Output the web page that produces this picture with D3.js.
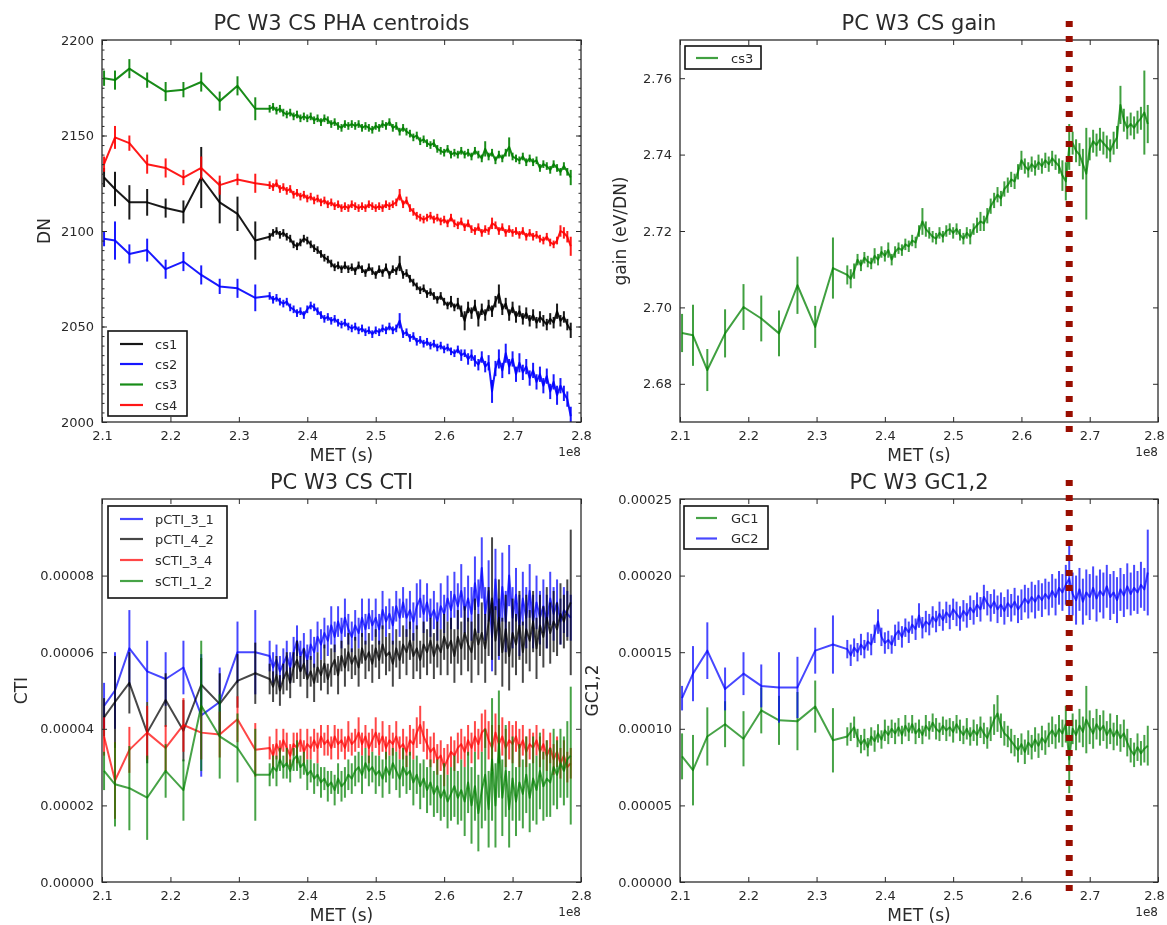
<!DOCTYPE html>
<html><head><meta charset="utf-8">
<script src="https://cdn.jsdelivr.net/npm/d3@7"></script>
<style>
body{margin:0;background:#fff}
svg{display:block}
text{font-family:"DejaVu Sans",sans-serif}
</style>
</head><body>
<svg id="fig" width="1167" height="925"></svg>
<script>
// ---------- DATA ----------
const metSec = [
 2.103e8,2.119e8,2.140e8,2.166e8,2.193e8,2.219e8,2.245e8,2.272e8,2.298e8,2.324e8,
 2.345e8,2.350e8,2.355e8,2.360e8,2.365e8,2.370e8,2.375e8,2.380e8,2.385e8,2.390e8,
 2.395e8,2.400e8,2.405e8,2.410e8,2.415e8,2.420e8,2.425e8,2.430e8,2.435e8,2.440e8,
 2.445e8,2.450e8,2.455e8,2.460e8,2.465e8,2.470e8,2.475e8,2.480e8,2.485e8,2.490e8,
 2.495e8,2.500e8,2.505e8,2.510e8,2.515e8,2.520e8,2.525e8,2.530e8,2.535e8,2.540e8,
 2.545e8,2.550e8,2.555e8,2.560e8,2.565e8,2.570e8,2.575e8,2.580e8,2.585e8,2.590e8,
 2.595e8,2.600e8,2.605e8,2.610e8,2.615e8,2.620e8,2.625e8,2.630e8,2.635e8,2.640e8,
 2.645e8,2.650e8,2.655e8,2.660e8,2.665e8,2.670e8,2.675e8,2.680e8,2.685e8,2.690e8,
 2.695e8,2.700e8,2.705e8,2.710e8,2.715e8,2.720e8,2.725e8,2.730e8,2.735e8,2.740e8,
 2.745e8,2.750e8,2.755e8,2.760e8,2.765e8,2.770e8,2.775e8,2.780e8,2.785e8];

const xTicks = [2.1e8,2.2e8,2.3e8,2.4e8,2.5e8,2.6e8,2.7e8,2.8e8];
const refLineMET = 2.67e8;

// PHA centroids (DN)
const cs1 = [2128,2122,2115,2115,2112,2110,2128,2115,2109,2095,
 2097,2099,2100,2098,2099,2097,2096,2093,2092,2094,
 2096,2095,2093,2091,2090,2088,2086,2085,2083,2081,
 2082,2080,2082,2080,2081,2079,2082,2080,2078,2081,
 2079,2077,2080,2078,2081,2077,2080,2079,2083,2077,
 2078,2075,2073,2071,2069,2070,2067,2068,2066,2064,
 2066,2063,2061,2063,2060,2062,2058,2053,2060,2057,
 2061,2054,2059,2056,2061,2058,2063,2067,2059,2062,
 2056,2060,2055,2058,2054,2057,2053,2056,2052,2055,
 2053,2051,2054,2052,2058,2053,2055,2051,2048];
const cs1Err = [5,9,9,7,5,6,16,11,9,10,
 2,2,2,2,2,2,2,2,2,2, 2,2,2,2,2,2,2,2,2,2, 2,2,2,2,2,2,2,2,2,2,
 2,2,2,2,2,2,2,2,4,2, 2,2,2,2,2,2,2,2,2,2, 2,2,2,3,2,3,3,5,3,3,
 3,4,3,3,3,3,3,5,3,3, 3,3,3,3,3,3,3,3,3,3, 3,3,3,3,4,3,3,3,4];
const cs2 = [2096,2095,2088,2090,2080,2084,2077,2071,2070,2065,
 2066,2064,2065,2063,2062,2063,2060,2059,2057,2058,
 2056,2059,2061,2060,2058,2056,2054,2055,2053,2054,
 2052,2051,2052,2050,2049,2050,2048,2049,2047,2048,
 2046,2048,2047,2049,2048,2050,2048,2049,2053,2046,
 2047,2044,2045,2042,2043,2041,2042,2040,2041,2039,
 2040,2038,2039,2037,2036,2038,2035,2036,2033,2035,
 2032,2030,2034,2029,2031,2016,2028,2033,2027,2036,
 2029,2033,2025,2031,2026,2029,2023,2027,2021,2025,
 2019,2024,2016,2021,2014,2019,2015,2012,2003];
const cs2Err = [4,10,5,6,5,5,5,4,5,7,
 2,2,2,2,2,2,2,2,2,2, 2,2,2,2,2,2,2,2,2,2, 2,2,2,2,2,2,2,2,2,2,
 2,2,2,2,2,2,2,2,4,2, 2,2,2,2,2,2,2,2,2,2, 2,2,2,2,2,2,3,2,3,3,
 3,3,3,3,4,6,4,5,4,5, 4,4,4,5,4,4,4,4,4,4, 4,4,4,4,5,4,4,4,5];
const cs3 = [2180,2179,2185,2179,2173,2174,2178,2168,2176,2164,
 2164,2165,2163,2164,2162,2161,2162,2160,2161,2159,
 2160,2159,2160,2158,2159,2157,2159,2158,2156,2157,
 2155,2154,2156,2155,2156,2155,2156,2154,2155,2154,
 2153,2155,2154,2156,2155,2157,2154,2155,2152,2154,
 2152,2151,2149,2150,2147,2148,2146,2145,2146,2143,
 2142,2141,2143,2140,2141,2140,2142,2140,2141,2139,
 2142,2140,2138,2143,2139,2141,2137,2140,2138,2141,
 2144,2139,2138,2137,2139,2136,2138,2136,2137,2133,
 2135,2134,2132,2135,2133,2131,2134,2131,2128];
const cs3Err = [4,5,5,4,5,4,5,5,5,6,
 2,2,2,2,2,2,2,2,2,2, 2,2,2,2,2,2,2,2,2,2, 2,2,2,2,2,2,2,2,2,2,
 2,2,2,2,2,2,2,2,2,2, 2,2,2,2,2,2,2,2,2,2, 2,2,2,2,2,2,2,2,2,2,
 2,2,2,4,2,2,2,2,2,2, 5,2,2,2,2,2,2,2,2,2, 2,2,2,2,2,2,2,2,4];
const cs4 = [2135,2149,2146,2135,2133,2128,2133,2124,2127,2125,
 2124,2123,2125,2122,2123,2121,2122,2119,2120,2118,
 2119,2117,2118,2116,2117,2115,2116,2114,2115,2113,
 2114,2112,2113,2112,2114,2113,2112,2113,2112,2114,
 2113,2112,2113,2112,2114,2113,2114,2115,2119,2114,
 2116,2112,2110,2108,2107,2106,2107,2108,2106,2107,
 2105,2106,2104,2107,2104,2103,2105,2102,2104,2101,
 2100,2102,2099,2101,2100,2104,2103,2100,2102,2099,
 2101,2099,2100,2098,2100,2097,2099,2097,2098,2096,
 2095,2097,2094,2093,2095,2100,2099,2097,2092];
const cs4Err = [4,6,4,5,5,4,6,5,3,5,
 2,2,2,2,2,2,2,2,2,2, 2,2,2,2,2,2,2,2,2,2, 2,2,2,2,2,2,2,2,2,2,
 2,2,2,2,2,2,2,2,3,2, 2,2,2,2,2,2,2,2,2,2, 2,2,2,2,2,2,2,2,2,2,
 2,2,2,2,2,3,2,2,2,2, 2,2,2,2,2,2,2,2,2,2, 2,2,2,2,2,3,3,3,5];

// CS gain (eV/DN)
const gain = [2.6933,2.6927,2.6836,2.6932,2.7001,2.6971,2.6932,2.7058,2.6949,2.7103,
 2.7085,2.7075,2.7095,2.7125,2.7110,2.7130,2.7120,2.7115,2.7135,2.7125,
 2.7145,2.7135,2.7150,2.7125,2.7145,2.7155,2.7150,2.7165,2.7160,2.7175,
 2.7170,2.7200,2.7225,2.7205,2.7195,2.7185,2.7180,2.7195,2.7185,2.7200,
 2.7205,2.7195,2.7205,2.7190,2.7180,2.7195,2.7185,2.7205,2.7215,2.7225,
 2.7220,2.7240,2.7265,2.7280,2.7295,2.7285,2.7310,2.7320,2.7335,2.7330,
 2.7355,2.7385,2.7370,2.7360,2.7375,2.7365,2.7380,2.7370,2.7385,2.7375,
 2.7390,2.7380,2.7370,2.7345,2.7330,2.7420,2.7430,2.7410,2.7400,2.7375,
 2.7350,2.7415,2.7435,2.7425,2.7440,2.7430,2.7420,2.7410,2.7430,2.7445,
 2.7530,2.7490,2.7470,2.7480,2.7470,2.7485,2.7495,2.7510,2.7480];
const gainErr = [0.005,0.008,0.0055,0.0063,0.006,0.006,0.006,0.0075,0.0055,0.008,
 0.0025,0.0025,0.002,0.0015,0.0015,0.0015,0.0015,0.0015,0.002,0.0015,
 0.0015,0.0015,0.002,0.0015,0.0015,0.0015,0.0015,0.0015,0.0015,0.0015,
 0.0015,0.0015,0.0035,0.002,0.0015,0.0015,0.0015,0.0015,0.0015,0.0015,
 0.0015,0.0015,0.0015,0.0015,0.0015,0.0015,0.002,0.0015,0.002,0.0025,
 0.002,0.002,0.002,0.002,0.002,0.002,0.002,0.002,0.002,0.002,
 0.002,0.0025,0.002,0.002,0.002,0.002,0.002,0.002,0.002,0.002,
 0.002,0.002,0.002,0.004,0.005,0.006,0.003,0.003,0.003,0.004,
 0.012,0.003,0.003,0.003,0.003,0.003,0.003,0.003,0.003,0.003,
 0.005,0.003,0.003,0.003,0.003,0.003,0.003,0.011,0.005];

// CTI
const pCTI_3_1 = [4.6e-5,5.0e-5,6.1e-5,5.5e-5,5.3e-5,5.6e-5,4.35e-5,4.7e-5,6.0e-5,6.0e-5,
 5.9e-5,5.6e-5,5.8e-5,5.5e-5,5.7e-5,5.9e-5,5.6e-5,6.0e-5,6.3e-5,5.9e-5,
 6.1e-5,5.8e-5,6.2e-5,6.0e-5,6.4e-5,6.2e-5,6.5e-5,6.3e-5,6.7e-5,6.4e-5,
 6.8e-5,6.5e-5,6.9e-5,6.6e-5,6.4e-5,6.7e-5,6.5e-5,6.9e-5,6.6e-5,7.0e-5,
 6.7e-5,6.9e-5,6.6e-5,7.1e-5,6.8e-5,7.0e-5,6.7e-5,7.2e-5,6.9e-5,7.3e-5,
 6.9e-5,7.1e-5,6.8e-5,7.2e-5,7.4e-5,7.0e-5,7.3e-5,6.9e-5,7.1e-5,6.8e-5,
 7.2e-5,7.0e-5,7.4e-5,7.1e-5,7.5e-5,7.2e-5,7.6e-5,7.1e-5,7.4e-5,7.0e-5,
 7.8e-5,7.2e-5,8.2e-5,7.0e-5,7.6e-5,6.4e-5,7.9e-5,6.6e-5,7.7e-5,6.8e-5,
 8.0e-5,6.9e-5,7.5e-5,6.7e-5,7.4e-5,6.9e-5,7.6e-5,6.8e-5,7.3e-5,6.9e-5,
 7.2e-5,6.8e-5,7.4e-5,7.0e-5,7.3e-5,6.8e-5,7.1e-5,7.0e-5,6.9e-5];
const pCTI_3_1Err = [0.6e-5,1.0e-5,1.0e-5,0.8e-5,0.7e-5,0.7e-5,1.6e-5,0.9e-5,0.8e-5,1.1e-5,
 0.4e-5,0.4e-5,0.4e-5,0.4e-5,0.4e-5,0.4e-5,0.4e-5,0.4e-5,0.4e-5,0.4e-5,
 0.4e-5,0.4e-5,0.4e-5,0.4e-5,0.4e-5,0.4e-5,0.4e-5,0.4e-5,0.5e-5,0.4e-5,
 0.4e-5,0.4e-5,0.5e-5,0.4e-5,0.4e-5,0.4e-5,0.4e-5,0.5e-5,0.4e-5,0.4e-5,
 0.4e-5,0.5e-5,0.4e-5,0.5e-5,0.4e-5,0.4e-5,0.5e-5,0.4e-5,0.5e-5,0.4e-5,
 0.5e-5,0.5e-5,0.5e-5,0.6e-5,0.5e-5,0.5e-5,0.5e-5,0.5e-5,0.5e-5,0.5e-5,
 0.6e-5,0.5e-5,0.6e-5,0.5e-5,0.6e-5,0.6e-5,0.7e-5,0.6e-5,0.6e-5,0.7e-5,
 0.7e-5,0.7e-5,0.8e-5,0.7e-5,0.8e-5,0.9e-5,0.8e-5,0.8e-5,0.9e-5,0.8e-5,
 0.8e-5,0.8e-5,0.7e-5,0.8e-5,0.7e-5,0.8e-5,0.7e-5,0.7e-5,0.7e-5,0.7e-5,
 0.7e-5,0.7e-5,0.7e-5,0.7e-5,0.6e-5,0.6e-5,0.6e-5,0.6e-5,0.6e-5];
const pCTI_4_2 = [4.3e-5,4.7e-5,5.2e-5,3.9e-5,4.75e-5,3.95e-5,5.15e-5,4.65e-5,5.25e-5,5.45e-5,
 5.3e-5,5.1e-5,5.4e-5,5.0e-5,5.3e-5,5.5e-5,5.2e-5,5.6e-5,5.8e-5,5.5e-5,
 5.7e-5,5.3e-5,5.5e-5,5.2e-5,5.6e-5,5.4e-5,5.7e-5,5.3e-5,5.6e-5,5.8e-5,
 5.4e-5,5.9e-5,5.6e-5,6.0e-5,5.7e-5,5.9e-5,5.6e-5,6.1e-5,5.8e-5,6.0e-5,
 5.7e-5,6.1e-5,5.8e-5,6.2e-5,5.9e-5,6.0e-5,5.7e-5,6.1e-5,5.8e-5,6.2e-5,
 6.0e-5,6.3e-5,5.9e-5,6.1e-5,5.8e-5,6.2e-5,6.0e-5,6.3e-5,5.9e-5,6.2e-5,
 6.0e-5,6.4e-5,6.1e-5,6.3e-5,5.9e-5,6.4e-5,6.1e-5,6.5e-5,6.2e-5,6.0e-5,
 6.6e-5,6.2e-5,6.5e-5,6.1e-5,6.8e-5,7.4e-5,6.3e-5,6.9e-5,6.0e-5,6.6e-5,
 5.9e-5,6.5e-5,6.2e-5,6.7e-5,6.0e-5,6.6e-5,6.3e-5,6.8e-5,6.1e-5,6.7e-5,
 6.4e-5,6.9e-5,6.5e-5,6.8e-5,6.6e-5,7.0e-5,6.8e-5,7.1e-5,7.3e-5];
const pCTI_4_2Err = [0.5e-5,1.2e-5,0.8e-5,0.8e-5,0.7e-5,0.8e-5,0.7e-5,0.8e-5,0.7e-5,0.8e-5,
 0.4e-5,0.4e-5,0.5e-5,0.4e-5,0.4e-5,0.5e-5,0.4e-5,0.4e-5,0.5e-5,0.4e-5,
 0.4e-5,0.5e-5,0.4e-5,0.5e-5,0.4e-5,0.4e-5,0.5e-5,0.4e-5,0.5e-5,0.4e-5,
 0.5e-5,0.4e-5,0.5e-5,0.5e-5,0.4e-5,0.5e-5,0.5e-5,0.4e-5,0.5e-5,0.5e-5,
 0.5e-5,0.5e-5,0.5e-5,0.5e-5,0.5e-5,0.5e-5,0.6e-5,0.5e-5,0.5e-5,0.5e-5,
 0.6e-5,0.5e-5,0.6e-5,0.6e-5,0.5e-5,0.6e-5,0.6e-5,0.6e-5,0.6e-5,0.6e-5,
 0.6e-5,0.6e-5,0.7e-5,0.6e-5,0.7e-5,0.7e-5,0.7e-5,0.7e-5,0.7e-5,0.8e-5,
 0.8e-5,0.8e-5,0.8e-5,0.9e-5,0.9e-5,1.6e-5,0.9e-5,1.0e-5,0.9e-5,0.9e-5,
 0.9e-5,0.9e-5,0.8e-5,0.9e-5,0.8e-5,0.9e-5,0.8e-5,0.8e-5,0.8e-5,0.8e-5,
 0.8e-5,0.8e-5,0.8e-5,0.8e-5,0.7e-5,0.8e-5,0.7e-5,0.8e-5,1.9e-5];
const sCTI_3_4 = [3.8e-5,2.65e-5,3.45e-5,3.9e-5,3.5e-5,4.1e-5,3.9e-5,3.85e-5,4.25e-5,3.45e-5,
 3.5e-5,3.3e-5,3.6e-5,3.4e-5,3.7e-5,3.5e-5,3.3e-5,3.6e-5,3.5e-5,3.7e-5,
 3.4e-5,3.6e-5,3.5e-5,3.7e-5,3.5e-5,3.8e-5,3.6e-5,3.7e-5,3.5e-5,3.8e-5,
 3.6e-5,3.7e-5,3.5e-5,3.8e-5,3.6e-5,3.7e-5,3.9e-5,3.6e-5,3.8e-5,3.5e-5,
 3.7e-5,3.9e-5,3.6e-5,3.8e-5,3.5e-5,3.7e-5,3.6e-5,3.8e-5,3.5e-5,3.6e-5,
 3.4e-5,3.7e-5,3.6e-5,3.9e-5,4.1e-5,3.8e-5,3.6e-5,3.4e-5,3.5e-5,3.2e-5,
 3.3e-5,3.0e-5,3.2e-5,3.4e-5,3.3e-5,3.5e-5,3.6e-5,3.4e-5,3.7e-5,3.5e-5,
 3.8e-5,3.6e-5,3.9e-5,4.0e-5,3.7e-5,3.5e-5,3.9e-5,3.6e-5,3.8e-5,3.5e-5,
 3.7e-5,3.6e-5,3.8e-5,3.5e-5,3.7e-5,3.4e-5,3.6e-5,3.5e-5,3.7e-5,3.4e-5,
 3.6e-5,3.3e-5,3.5e-5,3.2e-5,3.4e-5,3.1e-5,3.3e-5,3.0e-5,3.1e-5];
const sCTI_3_4Err = [0.5e-5,1.0e-5,0.6e-5,0.7e-5,0.6e-5,0.7e-5,0.7e-5,0.6e-5,0.6e-5,0.7e-5,
 0.3e-5,0.3e-5,0.4e-5,0.3e-5,0.3e-5,0.4e-5,0.3e-5,0.3e-5,0.4e-5,0.3e-5,
 0.3e-5,0.4e-5,0.3e-5,0.3e-5,0.4e-5,0.3e-5,0.3e-5,0.4e-5,0.3e-5,0.3e-5,
 0.4e-5,0.3e-5,0.3e-5,0.4e-5,0.3e-5,0.3e-5,0.4e-5,0.3e-5,0.3e-5,0.4e-5,
 0.3e-5,0.4e-5,0.3e-5,0.4e-5,0.3e-5,0.4e-5,0.3e-5,0.4e-5,0.3e-5,0.4e-5,
 0.4e-5,0.4e-5,0.4e-5,0.4e-5,0.5e-5,0.4e-5,0.4e-5,0.4e-5,0.4e-5,0.4e-5,
 0.4e-5,0.5e-5,0.4e-5,0.4e-5,0.4e-5,0.4e-5,0.4e-5,0.4e-5,0.4e-5,0.4e-5,
 0.4e-5,0.4e-5,0.5e-5,0.5e-5,0.5e-5,0.6e-5,0.5e-5,0.5e-5,0.5e-5,0.5e-5,
 0.5e-5,0.5e-5,0.4e-5,0.5e-5,0.4e-5,0.4e-5,0.4e-5,0.4e-5,0.4e-5,0.4e-5,
 0.4e-5,0.4e-5,0.4e-5,0.4e-5,0.4e-5,0.4e-5,0.4e-5,0.4e-5,0.4e-5];
const sCTI_1_2 = [2.9e-5,2.55e-5,2.45e-5,2.2e-5,2.9e-5,2.4e-5,4.6e-5,3.8e-5,3.5e-5,2.8e-5,
 2.8e-5,3.0e-5,2.9e-5,3.2e-5,3.0e-5,3.1e-5,2.9e-5,3.2e-5,3.3e-5,3.0e-5,
 3.1e-5,2.8e-5,2.9e-5,2.7e-5,2.8e-5,2.6e-5,2.7e-5,2.5e-5,2.6e-5,2.4e-5,
 2.7e-5,2.5e-5,2.6e-5,2.8e-5,2.7e-5,2.9e-5,3.0e-5,2.8e-5,3.1e-5,2.9e-5,
 3.0e-5,2.8e-5,2.9e-5,2.7e-5,3.0e-5,2.8e-5,3.1e-5,2.9e-5,2.7e-5,3.0e-5,
 2.8e-5,2.9e-5,2.6e-5,2.8e-5,2.5e-5,2.7e-5,2.4e-5,2.6e-5,2.3e-5,2.5e-5,
 2.2e-5,2.4e-5,2.1e-5,2.3e-5,2.5e-5,2.2e-5,2.4e-5,2.1e-5,2.6e-5,2.0e-5,
 2.5e-5,1.8e-5,2.4e-5,2.8e-5,1.9e-5,3.2e-5,2.0e-5,3.6e-5,2.2e-5,2.9e-5,
 1.9e-5,2.7e-5,2.1e-5,2.6e-5,2.3e-5,2.8e-5,2.2e-5,2.7e-5,2.4e-5,2.9e-5,
 2.5e-5,2.7e-5,2.6e-5,3.0e-5,2.8e-5,3.1e-5,2.9e-5,3.2e-5,3.3e-5];
const sCTI_1_2Err = [0.5e-5,1.1e-5,1.1e-5,1.1e-5,0.7e-5,0.8e-5,1.7e-5,1.1e-5,0.9e-5,1.2e-5,
 0.3e-5,0.3e-5,0.4e-5,0.3e-5,0.3e-5,0.4e-5,0.3e-5,0.3e-5,0.4e-5,0.3e-5,
 0.3e-5,0.4e-5,0.3e-5,0.4e-5,0.3e-5,0.4e-5,0.3e-5,0.4e-5,0.3e-5,0.4e-5,
 0.4e-5,0.4e-5,0.4e-5,0.4e-5,0.4e-5,0.4e-5,0.4e-5,0.5e-5,0.4e-5,0.4e-5,
 0.4e-5,0.5e-5,0.4e-5,0.5e-5,0.4e-5,0.5e-5,0.4e-5,0.5e-5,0.5e-5,0.5e-5,
 0.5e-5,0.5e-5,0.6e-5,0.5e-5,0.6e-5,0.5e-5,0.6e-5,0.6e-5,0.6e-5,0.7e-5,
 0.6e-5,0.7e-5,0.7e-5,0.7e-5,0.8e-5,0.7e-5,0.8e-5,0.9e-5,0.8e-5,1.0e-5,
 0.9e-5,1.0e-5,1.0e-5,1.2e-5,1.0e-5,1.6e-5,1.1e-5,1.4e-5,1.0e-5,1.2e-5,
 1.0e-5,1.1e-5,0.9e-5,1.0e-5,0.9e-5,1.0e-5,0.9e-5,1.1e-5,0.9e-5,1.0e-5,
 0.9e-5,1.0e-5,0.9e-5,1.0e-5,0.9e-5,0.9e-5,0.9e-5,1.0e-5,1.8e-5];

// GC1, GC2
const GC1 = [0.82e-4,0.73e-4,0.95e-4,1.03e-4,0.935e-4,1.12e-4,1.055e-4,1.05e-4,1.145e-4,0.925e-4,
 0.95e-4,0.98e-4,1.01e-4,0.94e-4,0.90e-4,0.93e-4,0.88e-4,0.95e-4,0.92e-4,0.97e-4,
 0.93e-4,0.99e-4,0.96e-4,1.00e-4,0.97e-4,1.01e-4,0.96e-4,1.02e-4,0.98e-4,1.03e-4,
 0.97e-4,1.00e-4,0.96e-4,1.02e-4,0.99e-4,1.04e-4,1.00e-4,0.98e-4,1.02e-4,0.99e-4,
 1.01e-4,0.98e-4,1.03e-4,0.99e-4,0.96e-4,1.00e-4,0.95e-4,0.99e-4,0.96e-4,1.01e-4,
 0.97e-4,0.94e-4,1.00e-4,1.06e-4,1.10e-4,1.02e-4,0.97e-4,0.95e-4,0.92e-4,0.89e-4,
 0.86e-4,0.90e-4,0.85e-4,0.91e-4,0.88e-4,0.93e-4,0.89e-4,0.94e-4,0.91e-4,0.96e-4,
 0.99e-4,0.95e-4,1.00e-4,0.97e-4,1.03e-4,0.80e-4,1.00e-4,0.96e-4,1.02e-4,0.98e-4,
 1.06e-4,1.01e-4,0.97e-4,1.03e-4,0.99e-4,1.02e-4,0.96e-4,1.00e-4,0.95e-4,0.99e-4,
 0.94e-4,0.97e-4,0.91e-4,0.86e-4,0.83e-4,0.88e-4,0.84e-4,0.87e-4,0.89e-4];
const GC1Err = [0.15e-4,0.23e-4,0.19e-4,0.15e-4,0.18e-4,0.15e-4,0.16e-4,0.19e-4,0.17e-4,0.21e-4,
 0.06e-4,0.06e-4,0.07e-4,0.06e-4,0.06e-4,0.07e-4,0.06e-4,0.06e-4,0.07e-4,0.06e-4,
 0.06e-4,0.07e-4,0.06e-4,0.06e-4,0.07e-4,0.06e-4,0.06e-4,0.07e-4,0.06e-4,0.06e-4,
 0.07e-4,0.06e-4,0.06e-4,0.07e-4,0.06e-4,0.06e-4,0.07e-4,0.06e-4,0.06e-4,0.07e-4,
 0.06e-4,0.07e-4,0.06e-4,0.07e-4,0.06e-4,0.07e-4,0.06e-4,0.07e-4,0.07e-4,0.07e-4,
 0.07e-4,0.07e-4,0.08e-4,0.10e-4,0.12e-4,0.08e-4,0.08e-4,0.07e-4,0.08e-4,0.07e-4,
 0.08e-4,0.07e-4,0.08e-4,0.08e-4,0.08e-4,0.08e-4,0.08e-4,0.08e-4,0.08e-4,0.08e-4,
 0.09e-4,0.08e-4,0.09e-4,0.09e-4,0.12e-4,0.22e-4,0.10e-4,0.10e-4,0.11e-4,0.10e-4,
 0.22e-4,0.11e-4,0.10e-4,0.10e-4,0.10e-4,0.10e-4,0.09e-4,0.10e-4,0.09e-4,0.10e-4,
 0.09e-4,0.09e-4,0.09e-4,0.08e-4,0.08e-4,0.09e-4,0.08e-4,0.09e-4,0.13e-4];
const GC2 = [1.20e-4,1.36e-4,1.51e-4,1.26e-4,1.36e-4,1.28e-4,1.27e-4,1.27e-4,1.51e-4,1.55e-4,
 1.52e-4,1.48e-4,1.53e-4,1.50e-4,1.55e-4,1.52e-4,1.57e-4,1.55e-4,1.62e-4,1.70e-4,
 1.60e-4,1.56e-4,1.58e-4,1.55e-4,1.61e-4,1.64e-4,1.60e-4,1.66e-4,1.63e-4,1.68e-4,
 1.65e-4,1.74e-4,1.66e-4,1.70e-4,1.68e-4,1.73e-4,1.70e-4,1.75e-4,1.71e-4,1.76e-4,
 1.73e-4,1.78e-4,1.75e-4,1.72e-4,1.77e-4,1.74e-4,1.79e-4,1.76e-4,1.81e-4,1.78e-4,
 1.86e-4,1.82e-4,1.79e-4,1.83e-4,1.78e-4,1.81e-4,1.77e-4,1.82e-4,1.79e-4,1.83e-4,
 1.78e-4,1.81e-4,1.85e-4,1.82e-4,1.86e-4,1.83e-4,1.87e-4,1.84e-4,1.88e-4,1.85e-4,
 1.90e-4,1.86e-4,1.92e-4,1.89e-4,1.94e-4,1.98e-4,1.88e-4,1.84e-4,1.91e-4,1.83e-4,
 1.89e-4,1.86e-4,1.92e-4,1.85e-4,1.90e-4,1.87e-4,1.93e-4,1.86e-4,1.89e-4,1.84e-4,
 1.91e-4,1.87e-4,1.93e-4,1.88e-4,1.92e-4,1.89e-4,1.94e-4,1.91e-4,2.02e-4];
const GC2Err = [0.08e-4,0.18e-4,0.185e-4,0.14e-4,0.14e-4,0.14e-4,0.23e-4,0.2e-4,0.15e-4,0.19e-4,
 0.06e-4,0.07e-4,0.06e-4,0.06e-4,0.07e-4,0.06e-4,0.06e-4,0.07e-4,0.06e-4,0.08e-4,
 0.06e-4,0.07e-4,0.06e-4,0.06e-4,0.07e-4,0.06e-4,0.07e-4,0.06e-4,0.07e-4,0.06e-4,
 0.07e-4,0.08e-4,0.07e-4,0.07e-4,0.07e-4,0.07e-4,0.07e-4,0.08e-4,0.07e-4,0.07e-4,
 0.08e-4,0.07e-4,0.08e-4,0.08e-4,0.07e-4,0.08e-4,0.08e-4,0.08e-4,0.08e-4,0.08e-4,
 0.08e-4,0.08e-4,0.09e-4,0.08e-4,0.09e-4,0.08e-4,0.09e-4,0.09e-4,0.09e-4,0.09e-4,
 0.09e-4,0.10e-4,0.09e-4,0.10e-4,0.10e-4,0.11e-4,0.10e-4,0.11e-4,0.10e-4,0.11e-4,
 0.11e-4,0.12e-4,0.11e-4,0.12e-4,0.13e-4,0.25e-4,0.14e-4,0.16e-4,0.14e-4,0.15e-4,
 0.15e-4,0.15e-4,0.14e-4,0.15e-4,0.14e-4,0.15e-4,0.14e-4,0.15e-4,0.14e-4,0.15e-4,
 0.14e-4,0.14e-4,0.15e-4,0.14e-4,0.15e-4,0.14e-4,0.15e-4,0.14e-4,0.28e-4];

// tick label lists
const phaTicks = [2000,2050,2100,2150,2200];
const gainTicks = [2.68,2.70,2.72,2.74,2.76];
const ctiTicks = [0,0.00002,0.00004,0.00006,0.00008];
const gcTicks = [0,0.00005,0.00010,0.00015,0.00020,0.00025];

// ---------- DRAWING ----------
const svg = d3.select('#fig');
const defs = svg.append('defs');
defs.append('filter').attr('id','soft').attr('x','-2%').attr('y','-2%').attr('width','104%').attr('height','104%')
  .append('feGaussianBlur').attr('stdDeviation',0.55);
svg.append('rect').attr('width',1167).attr('height',925).attr('fill','#fff');
const root = svg.append('g').attr('filter','url(#soft)');

const C = {k:'#000000', b:'#0000ff', g:'#008000', r:'#ff0000'};
const INK = '#2a2a2a';

const panels = [
 {id:'pha', left:102,right:581,top:40,bottom:422, title:'PC W3 CS PHA centroids', ylabel:'DN', ylabelX:44,
  yDomain:[2000,2200], yTicks:phaTicks, fmt:d3.format('d'), minorStep:5, alpha:0.9,
  series:[{name:'cs1',v:cs1,e:cs1Err,c:C.k},{name:'cs2',v:cs2,e:cs2Err,c:C.b},{name:'cs3',v:cs3,e:cs3Err,c:C.g},{name:'cs4',v:cs4,e:cs4Err,c:C.r}],
  legend:{x:108,y:331,w:79,h:85,lx1:120,lx2:143,tx:155,rows:[344,364,384.5,405]}},
 {id:'gain', left:680,right:1158,top:40,bottom:422, title:'PC W3 CS gain', ylabel:'gain (eV/DN)', ylabelX:620,
  yDomain:[2.67,2.77], yTicks:gainTicks, fmt:d3.format('.2f'), alpha:0.75, ref:true,
  series:[{name:'cs3',v:gain,e:gainErr,c:C.g}],
  legend:{x:685,y:46,w:76,h:23,lx1:696,lx2:718,tx:731,rows:[58]}},
 {id:'cti', left:102,right:581,top:499,bottom:882, title:'PC W3 CS CTI', ylabel:'CTI', ylabelX:21,
  yDomain:[0,0.0001], yTicks:ctiTicks, fmt:d3.format('.5f'), alpha:0.72,
  series:[{name:'pCTI_3_1',v:pCTI_3_1,e:pCTI_3_1Err,c:C.b},{name:'pCTI_4_2',v:pCTI_4_2,e:pCTI_4_2Err,c:C.k},
          {name:'sCTI_3_4',v:sCTI_3_4,e:sCTI_3_4Err,c:C.r},{name:'sCTI_1_2',v:sCTI_1_2,e:sCTI_1_2Err,c:C.g}],
  legend:{x:108,y:506,w:119,h:92,lx1:120,lx2:143,tx:155,rows:[519,539,560,581]}},
 {id:'gc', left:680,right:1158,top:499,bottom:882, title:'PC W3 GC1,2', ylabel:'GC1,2', ylabelX:592,
  yDomain:[0,0.00025], yTicks:gcTicks, fmt:d3.format('.5f'), alpha:0.72, ref:true,
  series:[{name:'GC1',v:GC1,e:GC1Err,c:C.g},{name:'GC2',v:GC2,e:GC2Err,c:C.b}],
  legend:{x:684,y:506,w:84,h:43,lx1:696,lx2:717,tx:731,rows:[518,538.5]}}
];

panels.forEach(p => {
  const x = d3.scaleLinear().domain([2.1e8,2.8e8]).range([p.left,p.right]);
  const y = d3.scaleLinear().domain(p.yDomain).range([p.bottom,p.top]);
  defs.append('clipPath').attr('id','clip-'+p.id).append('rect')
    .attr('x',p.left).attr('y',p.top).attr('width',p.right-p.left).attr('height',p.bottom-p.top);
  const g = root.append('g');
  const plot = g.append('g').attr('clip-path',`url(#clip-${p.id})`);

  p.series.forEach(s => {
    const pts = metSec.map((t,i)=>({t, v:s.v[i], e:s.e[i]}));
    const sg = plot.append('g');
    sg.selectAll('line').data(pts).join('line')
      .attr('x1',d=>x(d.t)).attr('x2',d=>x(d.t))
      .attr('y1',d=>y(d.v-d.e)).attr('y2',d=>y(d.v+d.e))
      .attr('stroke',s.c).attr('stroke-width',2).attr('stroke-opacity',p.alpha);
    sg.append('path').datum(pts)
      .attr('d',d3.line().x(d=>x(d.t)).y(d=>y(d.v)))
      .attr('fill','none').attr('stroke',s.c).attr('stroke-width',2)
      .attr('stroke-opacity',p.alpha).attr('stroke-linejoin','round');
  });

  const styleAxis = sel => {
    sel.select('.domain').remove();
    sel.attr('font-size',13).attr('font-family','"DejaVu Sans",sans-serif');
    sel.selectAll('line').attr('stroke',INK).attr('stroke-width',1);
    sel.selectAll('text').attr('fill',INK);
  };
  // minor ticks
  if (p.minorStep) {
    const minor = d3.range(p.yDomain[0], p.yDomain[1]+0.001, p.minorStep);
    g.append('g').attr('transform',`translate(${p.left},0)`)
      .call(d3.axisLeft(y).tickValues(minor).tickSize(-2.5).tickFormat('')).call(styleAxis);
    g.append('g').attr('transform',`translate(${p.right},0)`)
      .call(d3.axisRight(y).tickValues(minor).tickSize(-2.5).tickFormat('')).call(styleAxis);
  }
  const xb = g.append('g').attr('transform',`translate(0,${p.bottom})`)
    .call(d3.axisBottom(x).tickValues(xTicks).tickSize(-5).tickPadding(9).tickFormat(d=>(d/1e8).toFixed(1))).call(styleAxis);
  // keep the last label inside the window on the right-hand panels
  if (p.right > 1100) xb.selectAll('.tick').filter(d=>d===2.8e8).select('text').attr('dx',-4);
  g.append('g').attr('transform',`translate(0,${p.top})`)
    .call(d3.axisTop(x).tickValues(xTicks).tickSize(-5).tickFormat('')).call(styleAxis);
  g.append('g').attr('transform',`translate(${p.left},0)`)
    .call(d3.axisLeft(y).tickValues(p.yTicks).tickSize(-5).tickPadding(8).tickFormat(p.fmt)).call(styleAxis);
  g.append('g').attr('transform',`translate(${p.right},0)`)
    .call(d3.axisRight(y).tickValues(p.yTicks).tickSize(-5).tickFormat('')).call(styleAxis);

  g.append('rect').attr('x',p.left).attr('y',p.top).attr('width',p.right-p.left).attr('height',p.bottom-p.top)
    .attr('fill','none').attr('stroke',INK).attr('stroke-width',1.3);

  // texts
  const cx = (p.left+p.right)/2, cy = (p.top+p.bottom)/2;
  g.append('text').attr('x',cx).attr('y',p.top-10).attr('text-anchor','middle')
    .attr('font-size',21).attr('fill',INK).text(p.title);
  g.append('text').attr('x',cx).attr('y',p.bottom+39).attr('text-anchor','middle')
    .attr('font-size',17).attr('fill',INK).text('MET (s)');
  g.append('text').attr('x',p.right).attr('y',p.bottom+34).attr('text-anchor','end')
    .attr('font-size',12).attr('fill',INK).text('1e8');
  g.append('text').attr('transform',`translate(${p.ylabelX},${cy}) rotate(-90)`).attr('dy','0.35em')
    .attr('text-anchor','middle').attr('font-size',17).attr('fill',INK).text(p.ylabel);

  // legend
  const L = p.legend;
  const lg = g.append('g');
  lg.append('rect').attr('x',L.x).attr('y',L.y).attr('width',L.w).attr('height',L.h)
    .attr('fill','#fff').attr('stroke','#111').attr('stroke-width',1.6);
  p.series.forEach((s,i)=>{
    lg.append('line').attr('x1',L.lx1).attr('x2',L.lx2).attr('y1',L.rows[i]).attr('y2',L.rows[i])
      .attr('stroke',s.c).attr('stroke-width',2.2).attr('stroke-opacity',p.alpha);
    lg.append('text').attr('x',L.tx).attr('y',L.rows[i]).attr('dy','0.35em')
      .attr('font-size',13).attr('fill',INK).text(s.name);
  });

  // reference dotted line
  if (p.ref) {
    root.append('line').attr('x1',x(refLineMET)).attr('x2',x(refLineMET))
      .attr('y1',p.top-19).attr('y2',p.bottom+15)
      .attr('stroke','#990e00').attr('stroke-width',7).attr('stroke-dasharray','6,9');
  }
});
</script>
</body></html>
